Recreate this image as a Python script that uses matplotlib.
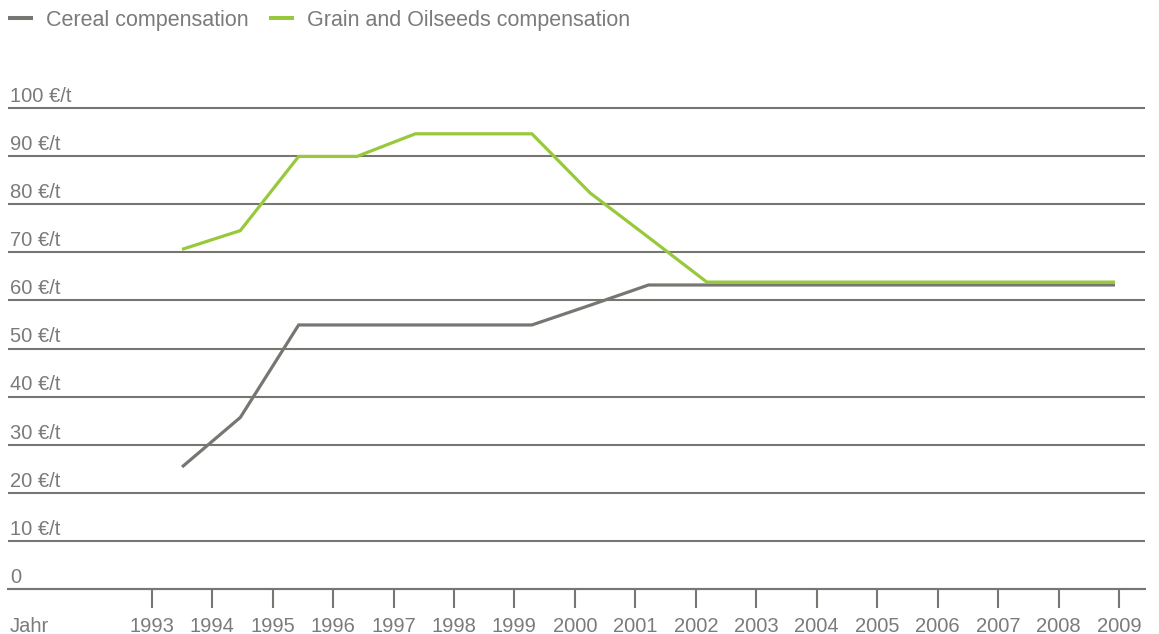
import numpy as np
import matplotlib.pyplot as plt

plt.rcParams['font.family'] = ['Liberation Sans', 'DejaVu Sans']

years = list(range(1993, 2010))
yticks = [0, 10, 20, 30, 40, 50, 60, 70, 80, 90, 100]
ylabels = ['0'] + [str(v) + ' €/t' for v in yticks[1:]]

cereal = [25.4, 35.7, 54.9, 54.9, 54.9, 54.9, 54.9, 59.0, 63.2,
          63.2, 63.2, 63.2, 63.2, 63.2, 63.2, 63.2, 63.2]
oilseeds = [70.6, 74.5, 89.9, 89.9, 94.6, 94.6, 94.6, 82.3, 73.1,
            63.8, 63.8, 63.8, 63.8, 63.8, 63.8, 63.8, 63.8]

grey = '#777672'
green = '#98c83c'
txt = '#7b7b7b'

W, H = 1159, 634
fig = plt.figure(figsize=(W / 100, H / 100), dpi=100)
ax = fig.add_axes([8 / W, (H - 591.7) / H, (1145 - 8) / W, (591.7 - 105.4) / H])

# data on its own category axis
ax2 = ax.twiny()
ax2.set_xlim(-174 / 58.3, 16 + 30 / 58.3)
ax2.axis('off')
idx = np.arange(len(cereal))
l1, = ax2.plot(idx, cereal, color=grey, lw=2.3, solid_capstyle='butt',
               solid_joinstyle='miter', label='Cereal compensation')
l2, = ax2.plot(idx, oilseeds, color=green, lw=2.3, solid_capstyle='butt',
               solid_joinstyle='miter', label='Grain and Oilseeds compensation')

# year axis
ax.set_xlim(1993 - 143.7 / 60.46, 2009 + 26 / 60.46)
ax.set_ylim(-0.5, 100.5)
ax.set_xticks(years)
ax.set_xticklabels([str(y) for y in years])
ax.tick_params(axis='x', length=13.7, width=1.5, color=grey, pad=6.5,
               labelsize=14.5, labelcolor=txt)
ax.set_yticks(yticks)
ax.tick_params(axis='y', length=0, labelleft=False)
ax.grid(axis='y', color=grey, lw=1.5)
ax.set_axisbelow(True)
for s in ['top', 'left', 'right']:
    ax.spines[s].set_visible(False)
ax.spines['bottom'].set_position(('data', 0))
ax.spines['bottom'].set_color(grey)
ax.spines['bottom'].set_linewidth(1.5)

for v, lab in zip(yticks, ylabels):
    ax.annotate(lab, xy=(0, v), xycoords=('axes fraction', 'data'),
                xytext=(1.5, 4.5), textcoords='offset points',
                ha='left', va='baseline', fontsize=14.5, color=txt)

ax.annotate('Jahr', xy=(0, 0), xycoords=('axes fraction', 'data'),
            xytext=(1.5, -20.2), textcoords='offset points',
            ha='left', va='top', fontsize=14.5, color=txt)

leg = fig.legend(handles=[l1, l2], loc='upper left', bbox_to_anchor=(8 / W, 1 - 10 / H),
                 ncol=2, frameon=False, fontsize=15.5, handlelength=1.16,
                 handletextpad=0.62, columnspacing=0.93, borderpad=0, borderaxespad=0)
for t in leg.get_texts():
    t.set_color(txt)
for h in leg.get_lines():
    h.set_linewidth(2.9)

fig.savefig('out.png', dpi=100)
